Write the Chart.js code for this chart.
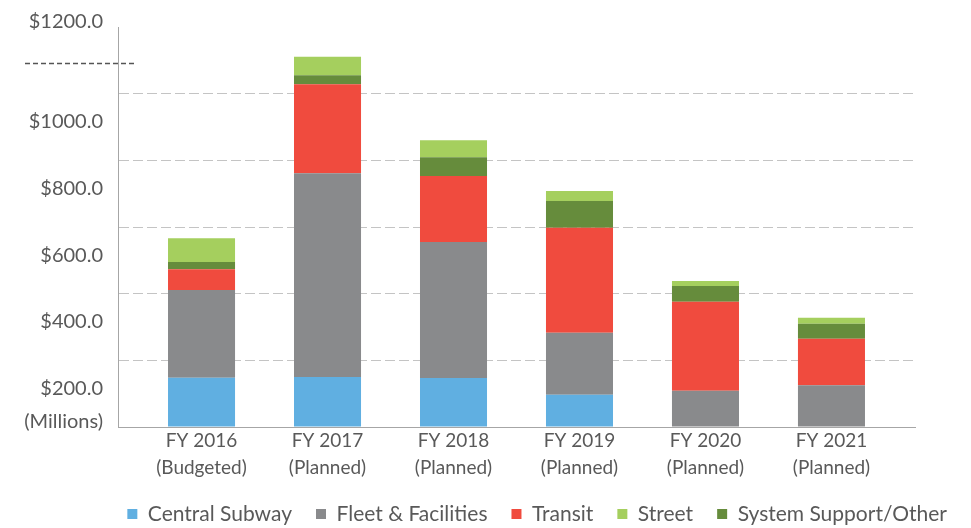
<!DOCTYPE html>
<html><head><meta charset="utf-8">
<script src="https://cdn.jsdelivr.net/npm/chart.js@4"></script>
<style>html,body{margin:0;padding:0;background:#fff}#wrap{width:971px;height:528px;position:relative}</style>
</head><body><div id="wrap"><canvas id="c"></canvas></div>
<script>
const categories = [['FY 2016','(Budgeted)'],['FY 2017','(Planned)'],['FY 2018','(Planned)'],['FY 2019','(Planned)'],['FY 2020','(Planned)'],['FY 2021','(Planned)']];
const centralSubway   = [148, 150, 147, 97, 0, 0];
const fleetFacilities = [263, 611, 408, 186, 109, 125];
const transit         = [62, 267, 198, 315, 267, 140];
const systemSupport   = [22, 27, 56, 80, 47, 45];
const street          = [71, 56, 51, 30, 15, 18];
const yTickLabels = ['(Millions)','$200.0','$400.0','$600.0','$800.0','$1000.0','$1200.0'];
const seriesNames = ['Central Subway','Fleet & Facilities','Transit','System Support/Other','Street'];
const legendOrder = [0,1,2,4,3];
const leftDashValue = 1093;

const colors = ['#60AFE1','#898A8C','#F04B3E','#668C3C','#A5CF5E'];
const seriesData = [centralSubway, fleetFacilities, transit, systemSupport, street];

const datasets = seriesData.map((arr, k) => ({
  label: seriesNames[k],
  data: arr.map((v, i) => ({x: i, y: v})),
  backgroundColor: colors[k],
  borderWidth: 0,
  stack: 'all',
  categoryPercentage: 0.532,
  barPercentage: 1.0
}));

const leftDash = {
  id: 'leftDash',
  afterDraw(chart) {
    const ctx = chart.ctx, ys = chart.scales.y;
    const yp = Math.round(ys.getPixelForValue(leftDashValue)) + 0.5;
    ctx.save();
    ctx.strokeStyle = '#555555';
    ctx.lineWidth = 1.3;
    ctx.setLineDash([5, 3]);
    ctx.beginPath();
    ctx.moveTo(chart.chartArea.left - 93, yp);
    ctx.lineTo(chart.chartArea.left + 17, yp);
    ctx.stroke();
    ctx.restore();
  }
};

new Chart(document.getElementById('c'), {
  type: 'bar',
  data: { datasets },
  options: {
    responsive: true,
    maintainAspectRatio: false,
    animation: false,
    layout: { padding: { left: 8, right: 0, top: 26, bottom: -6.5 } },
    plugins: {
      tooltip: { enabled: false },
      legend: {
        position: 'bottom',
        align: 'end',
        labels: {
          boxWidth: 10, boxHeight: 10, padding: 24,
          color: '#595959',
          font: { family: 'Lato', size: 21 },
          sort: (a, b) => legendOrder.indexOf(a.datasetIndex) - legendOrder.indexOf(b.datasetIndex)
        }
      }
    },
    scales: {
      x: {
        type: 'linear',
        offset: false,
        min: -0.663, max: 5.663,
        grid: { display: false, drawTicks: false },
        border: { display: true, color: '#A6A6A6', width: 1 },
        ticks: {
          stepSize: 1, includeBounds: false, autoSkip: false, maxRotation: 0, padding: 0,
          color: '#595959',
          font: { family: 'Lato', size: 19, lineHeight: 1.42 },
          callback: (v) => Number.isInteger(v) && categories[v] ? categories[v] : ''
        },
        afterFit: (s) => { s.height = 52.5; }
      },
      y: {
        stacked: true,
        min: 0, max: 1200,
        afterBuildTicks: (s) => { const t = []; for (let v = 0; v <= 1200; v += 100) t.push({ value: v }); s.ticks = t; },
        grid: {
          drawTicks: false,
          lineWidth: 1,
          color: (ctx) => (ctx.tick && ctx.tick.value % 200 === 0 && ctx.tick.value > 0 && ctx.tick.value < 1200) ? '#C4C4C4' : 'rgba(0,0,0,0)'
        },
        border: { display: true, color: '#A6A6A6', width: 1, dash: [10, 4] },
        ticks: {
          autoSkip: false, padding: 15, labelOffset: -5,
          color: '#595959',
          font: { family: 'Lato', size: 20 },
          callback: (v) => {
            if (v === 0) return yTickLabels[0];
            if (v === 1200) return yTickLabels[6];
            if (v % 200 === 100 && v < 1100) return yTickLabels[(v + 100) / 200];
            return '';
          }
        },
        afterFit: (s) => { s.width = 110; }
      },
      y2: {
        position: 'right',
        display: true,
        grid: { display: false, drawTicks: false },
        border: { display: false },
        ticks: { display: false },
        afterFit: (s) => { s.width = 56; }
      }
    }
  },
  plugins: [leftDash]
});
</script>
</body></html>
